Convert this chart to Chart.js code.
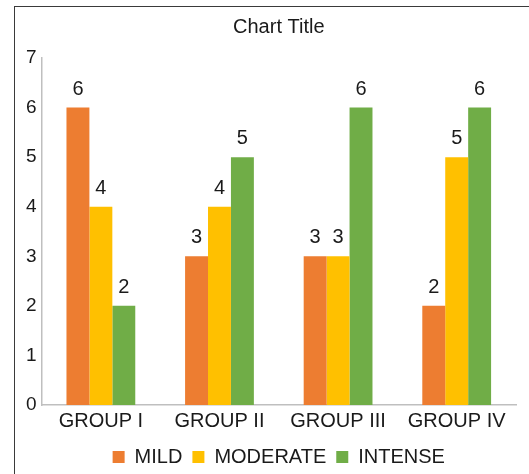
<!DOCTYPE html>
<html>
<head>
<meta charset="utf-8">
<script src="https://cdn.jsdelivr.net/npm/chart.js@4"></script>
<style>
  html, body { margin: 0; padding: 0; background: #fff; overflow: hidden; }
  body { width: 529px; height: 474px; position: relative; }
  .frame {
    position: absolute; left: 14px; top: 6px; width: 600px; height: 600px;
    border-left: 1.5px solid #3a3a3a; border-top: 1.5px solid #3a3a3a;
  }
  .wrap { position: absolute; left: 14px; top: 6px; width: 526px; height: 468px; }
</style>
</head>
<body>
<div class="frame"></div>
<div class="wrap"><canvas id="chart"></canvas></div>
<script>
// DATA ------------------------------------------------------

const groups = ["GROUP I", "GROUP II", "GROUP III", "GROUP IV"];
const mild = [6, 3, 3, 2];
const moderate = [4, 4, 3, 5];
const intense = [2, 5, 6, 6];
const yTicks = [0, 1, 2, 3, 4, 5, 6, 7];

const FONT = "Arial, 'Liberation Sans', sans-serif";

// value labels above each bar
const barValues = {
    id: 'barValues',
    afterDatasetsDraw(chart) {
        const ctx = chart.ctx;
        ctx.save();
        ctx.font = "20px " + FONT;
        ctx.fillStyle = "#1a1a1a";
        ctx.textAlign = "center";
        ctx.textBaseline = "alphabetic";
        chart.data.datasets.forEach((ds, i) => {
            chart.getDatasetMeta(i).data.forEach((bar, j) => {
                ctx.fillText(ds.data[j], bar.x, bar.y - 13);
            });
        });
        ctx.restore();
    }
};

// CHART ------------------------------------------------------

new Chart(document.getElementById("chart"), {
    type: 'bar',
    data: {
        labels: groups,
        datasets: [
            { label: "MILD", data: mild, backgroundColor: '#ED7D31' },
            { label: "MODERATE", data: moderate, backgroundColor: '#FFC000' },
            { label: "INTENSE", data: intense, backgroundColor: '#70AD47' }
        ]
    },
    options: {
        responsive: true,
        maintainAspectRatio: false,
        animation: false,
        datasets: {
            bar: { barPercentage: 1, categoryPercentage: 0.58, borderWidth: 0 }
        },
        layout: { padding: { left: 7, right: 24, bottom: -3 } },
        scales: {
            x: {
                grid: { display: false, drawTicks: false },
                border: { color: '#bfbfbf', width: 1.5 },
                ticks: { color: '#1a1a1a', font: { size: 20, family: FONT }, padding: 4 }
            },
            y: {
                min: 0,
                max: 7,
                afterBuildTicks: axis => { axis.ticks = yTicks.map(v => ({ value: v })); },
                grid: { display: false, drawTicks: false },
                border: { color: '#bfbfbf', width: 1.5 },
                ticks: { color: '#1a1a1a', font: { size: 19, family: FONT }, padding: 5 }
            }
        },
        plugins: {
            title: {
                display: true,
                fullSize: false,
                text: "Chart Title",
                color: '#1a1a1a',
                font: { size: 20, weight: 'normal', family: FONT },
                padding: { top: 9, bottom: 19 }
            },
            legend: {
                position: 'bottom',
                fullSize: false,
                labels: {
                    color: '#1a1a1a',
                    font: { size: 20, family: FONT },
                    boxWidth: 12,
                    boxHeight: 12,
                    padding: 10
                }
            },
            tooltip: { enabled: false }
        }
    },
    plugins: [barValues]
});
</script>
</body>
</html>
